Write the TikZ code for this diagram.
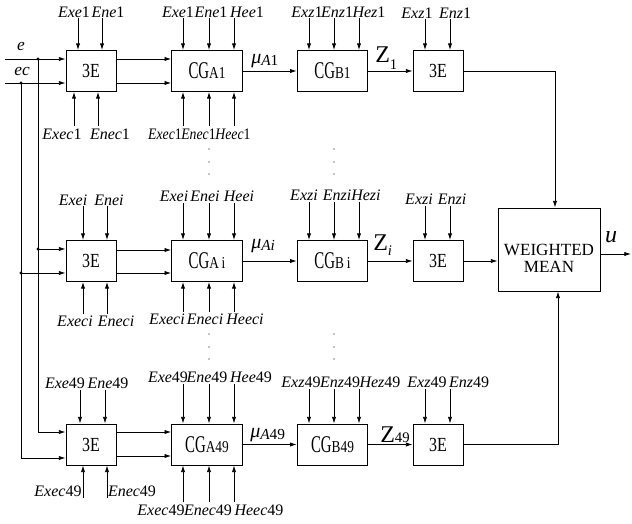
\documentclass[tikz,border=0pt]{standalone}
\usepackage{fontspec}
\setmainfont{Liberation Serif}
\newfontfamily\condA[FakeStretch=0.8]{Liberation Serif}
\newfontfamily\condB[FakeStretch=0.62]{Liberation Serif}
\newfontfamily\condL[FakeStretch=0.86]{Liberation Serif}
\usetikzlibrary{arrows.meta,calc}
\newcommand{\tEtext}{{\condA\fontsize{15}{15}\selectfont 3E}}
\newcommand{\cgtext}[1]{{\condB\fontsize{18}{18}\selectfont CG}{\condA\fontsize{12.5}{12.5}\selectfont #1}}
\newcommand{\mulab}[1]{{\fontsize{15}{15}\selectfont\textit{μ}}\raisebox{-1.5pt}{\fontsize{11.5}{11.5}\selectfont #1}}
\newcommand{\zlab}[2]{{\fontsize{18}{18}\selectfont Z}\raisebox{#2}{\fontsize{11}{11}\selectfont #1}}
\begin{document}
\begin{tikzpicture}[x=0.75pt,y=-0.75pt,
  arr/.style={line width=0.6pt,-{Latex[length=5pt,width=3.2pt]}},
  blk/.style={draw,line width=0.7pt,inner sep=0pt,minimum height=30.75pt},
  sbox/.style={blk,minimum width=37.5pt},
  cbox/.style={blk,minimum width=53pt},
  lbl/.style={inner sep=0pt,font=\fontsize{12}{12}\selectfont},
  lblc/.style={inner sep=0pt,font=\condL\fontsize{12}{12}\selectfont},
  jdot/.style={circle,fill,inner sep=0pt,minimum size=2.6pt}]
\useasboundingbox (0,0) rectangle (632,524);

% ---------- blocks ----------
\node[sbox] (r1a) at (91,71) {\tEtext};
\node[cbox] (r1b) at (207,71) {\cgtext{A1}};
\node[cbox] (r1c) at (332.5,71) {\cgtext{B1}};
\node[sbox] (r1d) at (438,71) {\tEtext};

\node[sbox] (ria) at (91,261) {\tEtext};
\node[cbox] (rib) at (207,261) {\cgtext{A\,i}};
\node[cbox] (ric) at (332.5,261) {\cgtext{B\,i}};
\node[sbox] (rid) at (438,261) {\tEtext};

\node[sbox] (r9a) at (91,444.5) {\tEtext};
\node[cbox] (r9b) at (207,444.5) {\cgtext{A49}};
\node[cbox] (r9c) at (332.5,444.5) {\cgtext{B49}};
\node[sbox] (r9d) at (438,444.5) {\tEtext};

\node[blk,minimum width=76.5pt,minimum height=62.25pt] (wm) at (549,249.5) {};
\node[inner sep=0pt,align=center,font=\fontsize{12.8}{12.6}\selectfont] (wmt) at (549,258) {WEIGHTED\\MEAN};

% ---------- signal inputs ----------
\node[inner sep=0pt,font=\fontsize{13}{13}\selectfont] (le) at (21,47) {\textit{e}};
\node[inner sep=0pt,font=\fontsize{13}{13}\selectfont] (lec) at (22,72) {\textit{ec}};
\coordinate (s1) at (5,59);
\coordinate (s2) at (5,83);
\coordinate (j1) at (38,59);
\coordinate (j2) at (21,83);
\coordinate (k1) at (38,432);
\coordinate (k2) at (21,458);
\coordinate (m1) at (38,249);
\coordinate (m2) at (21,273);
\draw[arr] (s1) -- (s1 -| r1a.west);
\draw[arr] (s2) -- (s2 -| r1a.west);
\draw[arr] (j1) -- (k1) -- (k1 -| r9a.west);
\draw[arr] (j2) -- (k2) -- (k2 -| r9a.west);
\draw[arr] (m1) -- (m1 -| ria.west);
\draw[arr] (m2) -- (m2 -| ria.west);
\node[jdot] (dj1) at (j1) {};
\node[jdot] (dj2) at (j2) {};
\node[jdot] (dm1) at (m1) {};
\node[jdot] (dm2) at (m2) {};

% ---------- 3E -> CGA ----------
\foreach \yy in {59,83} \draw[arr] (r1a.east |- 0,\yy) -- (r1b.west |- 0,\yy);
\foreach \yy in {250,273} \draw[arr] (ria.east |- 0,\yy) -- (rib.west |- 0,\yy);
\foreach \yy in {432,456} \draw[arr] (r9a.east |- 0,\yy) -- (r9b.west |- 0,\yy);

% ---------- chain ----------
\draw[arr] (r1b) -- (r1c);
\draw[arr] (r1c) -- (r1d);
\draw[arr] (rib) -- (ric);
\draw[arr] (ric) -- (rid);
\draw[arr] (r9b) -- (r9c);
\draw[arr] (r9c) -- (r9d);
\node[anchor=base west,inner sep=0pt] (mu1) at (251,64) {\mulab{\textit{A}1}};
\node[anchor=base west,inner sep=0pt] (mui) at (251,248) {\mulab{\textit{Ai}}};
\node[anchor=base west,inner sep=0pt] (mu9) at (250,437) {\mulab{\textit{A}49}};
\node[anchor=base west,inner sep=0pt] (z1) at (375,63) {\zlab{1}{-5pt}};
\node[anchor=base west,inner sep=0pt] (zi) at (373,250) {\zlab{\textit{i}}{-4pt}};
\node[anchor=base west,inner sep=0pt] (z9) at (380,442) {\zlab{49}{0pt}};

% ---------- to weighted mean ----------
\draw[arr] (r1d.east) -| ($(wm.north)+(6,0)$);
\draw[arr] (rid.east) -- (rid.east -| wm.west);
\draw[arr] (r9d.east) -| ($(wm.south)+(9,0)$);
\coordinate (uo) at (631,254);
\draw[arr] (wm.east |- uo) -- (uo);
\node[inner sep=0pt,font=\fontsize{18}{18}\selectfont] (lu) at (611,237) {\textit{u}};

% ---------- parameter arrows, row 1 ----------
\foreach \xx in {78,102} \draw[arr] (\xx,18) -- (\xx,18 |- r1a.north);
\foreach \xx in {183,209,234} \draw[arr] (\xx,18) -- (\xx,18 |- r1b.north);
\foreach \xx in {309,334,359} \draw[arr] (\xx,18) -- (\xx,18 |- r1c.north);
\foreach \xx in {425,450} \draw[arr] (\xx,19) -- (\xx,19 |- r1d.north);
\foreach \xx in {74,98} \draw[arr] (\xx,126) -- (\xx,126 |- r1a.south);
\foreach \xx in {183,209,234} \draw[arr] (\xx,126) -- (\xx,126 |- r1b.south);

% ---------- parameter arrows, row i ----------
\foreach \xx in {83,107} \draw[arr] (\xx,206) -- (\xx,206 |- ria.north);
\foreach \xx in {183,209,234} \draw[arr] (\xx,203) -- (\xx,203 |- rib.north);
\foreach \xx in {309,334,359} \draw[arr] (\xx,202) -- (\xx,202 |- ric.north);
\foreach \xx in {425,450} \draw[arr] (\xx,206) -- (\xx,206 |- rid.north);
\foreach \xx in {83,107} \draw[arr] (\xx,314) -- (\xx,314 |- ria.south);
\foreach \xx in {183,209,234} \draw[arr] (\xx,312) -- (\xx,312 |- rib.south);

% ---------- parameter arrows, row 49 ----------
\foreach \xx in {80,105} \draw[arr] (\xx,390) -- (\xx,390 |- r9a.north);
\foreach \xx in {183,209,234} \draw[arr] (\xx,384) -- (\xx,384 |- r9b.north);
\foreach \xx in {309,334,359} \draw[arr] (\xx,389) -- (\xx,389 |- r9c.north);
\foreach \xx in {425,450} \draw[arr] (\xx,389) -- (\xx,389 |- r9d.north);
\foreach \xx in {83,107} \draw[arr] (\xx,498) -- (\xx,498 |- r9a.south);
\foreach \xx in {183,209,234} \draw[arr] (\xx,502) -- (\xx,502 |- r9b.south);

% ---------- labels row 1 ----------
\node[lbl] (a1) at (74,12) {\textit{Exe}1};
\node[lbl] (a2) at (108,12) {\textit{Ene}1};
\node[lbl] (a3) at (178,12) {\textit{Exe}1};
\node[lbl] (a4) at (211,12) {\textit{Ene}1};
\node[lbl] (a5) at (247,12) {\textit{Hee}1};
\node[lbl] (a6) at (307,12) {\textit{Exz}1};
\node[lbl] (a7) at (337,12) {\textit{Enz}1};
\node[lbl] (a8) at (369,12) {\textit{Hez}1};
\node[lbl] (a9) at (417,13) {\textit{Exz}1};
\node[lbl] (a10) at (455,13) {\textit{Enz}1};
\node[lbl] (a11) at (62,134) {\textit{Exec}1};
\node[lbl] (a12) at (110,134) {\textit{Enec}1};
\node[lblc] (a13) at (165,134) {\textit{Exec}1};
\node[lblc] (a14) at (198.5,134) {\textit{Enec}1};
\node[lblc] (a15) at (233,134) {\textit{Heec}1};

% ---------- labels row i ----------
\node[lbl] (b1) at (73,200) {\textit{Exei}};
\node[lbl] (b2) at (109,200) {\textit{Enei}};
\node[lbl] (b3) at (174,196) {\textit{Exei}};
\node[lbl] (b4) at (205,196) {\textit{Enei}};
\node[lbl] (b5) at (239,196) {\textit{Heei}};
\node[lbl] (b6) at (304,195) {\textit{Exzi}};
\node[lbl] (b7) at (337,195) {\textit{Enzi}};
\node[lbl] (b8) at (366,195) {\textit{Hezi}};
\node[lbl] (b9) at (419,199) {\textit{Exzi}};
\node[lbl] (b10) at (452,199) {\textit{Enzi}};
\node[lbl] (b11) at (75,321) {\textit{Execi}};
\node[lbl] (b12) at (116,321) {\textit{Eneci}};
\node[lbl] (b13) at (167,319) {\textit{Execi}};
\node[lbl] (b14) at (205,319) {\textit{Eneci}};
\node[lbl] (b15) at (245,319) {\textit{Heeci}};

% ---------- labels row 49 ----------
\node[lbl] (c1) at (65,383) {\textit{Exe}49};
\node[lbl] (c2) at (108,383) {\textit{Ene}49};
\node[lbl] (c3) at (168,377) {\textit{Exe}49};
\node[lbl] (c4) at (207,377) {\textit{Ene}49};
\node[lbl] (c5) at (251,377) {\textit{Hee}49};
\node[lbl] (c6) at (301,382) {\textit{Exz}49};
\node[lbl] (c7) at (340,382) {\textit{Enz}49};
\node[lbl] (c8) at (380,382) {\textit{Hez}49};
\node[lbl] (c9) at (427,382) {\textit{Exz}49};
\node[lbl] (c10) at (469,382) {\textit{Enz}49};
\node[lbl] (c11) at (58,491) {\textit{Exec}49};
\node[lbl] (c12) at (132,491) {\textit{Enec}49};
\node[lbl] (c13) at (161,510) {\textit{Exec}49};
\node[lbl] (c14) at (208,510) {\textit{Enec}49};
\node[lbl] (c15) at (259,510) {\textit{Heec}49};

% ---------- vertical ellipsis dots ----------
\foreach \yy in {149,162,174,334,347,359} {
  \fill (209,\yy) circle (0.7);
  \fill (334,\yy) circle (0.7);
}
\end{tikzpicture}
\end{document}
